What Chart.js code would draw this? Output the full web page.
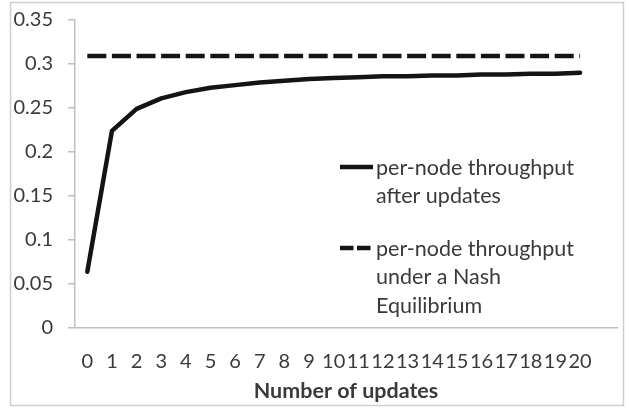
<!DOCTYPE html>
<html>
<head>
<meta charset="utf-8">
<script src="https://cdn.jsdelivr.net/npm/chart.js@4/dist/chart.umd.min.js"></script>
<style>
  html, body { margin: 0; padding: 0; background: #ffffff; }
  #wrap { width: 629px; height: 410px; position: relative; }
</style>
</head>
<body>
<div id="wrap"><canvas id="c" width="629" height="410"></canvas></div>
<script>
// ---- data ----
const categories = ['0','1','2','3','4','5','6','7','8','9','10','11','12','13','14','15','16','17','18','19','20',''];
const throughputAfterUpdates = [0.064, 0.224, 0.249, 0.261, 0.268, 0.273, 0.276, 0.279, 0.281, 0.283, 0.284, 0.285, 0.286, 0.286, 0.287, 0.287, 0.288, 0.288, 0.289, 0.289, 0.290];
const nashThroughput = [0.309, 0.309, 0.309, 0.309, 0.309, 0.309, 0.309, 0.309, 0.309, 0.309, 0.309, 0.309, 0.309, 0.309, 0.309, 0.309, 0.309, 0.309, 0.309, 0.309, 0.309];
const yTicks = [0, 0.05, 0.1, 0.15, 0.2, 0.25, 0.3, 0.35];
const seriesNames = ['per-node throughput after updates', 'per-node throughput under a Nash Equilibrium'];
const legendLines = [['per-node throughput', 'after updates'], ['per-node throughput', 'under a Nash', 'Equilibrium']];
const xTitle = 'Number of updates';

const FONT = 'Lato, Calibri, "Open Sans", sans-serif';
const TXT = '#3a3a3a';
const AXIS = '#bfbfbf';

const frame = {
  id: 'frame',
  beforeDraw(chart) {
    const ctx = chart.ctx;
    ctx.save();
    ctx.fillStyle = '#ffffff';
    ctx.fillRect(0, 0, chart.width, chart.height);
    ctx.strokeStyle = '#cfcfcf';
    ctx.lineWidth = 1.5;
    ctx.strokeRect(10.5, 2.5, 613, 403);
    ctx.restore();
  }
};

const legendBox = {
  id: 'legendBox',
  afterDraw(chart) {
    const ctx = chart.ctx;
    const entries = [
      { y: 167, ds: chart.data.datasets[0], dash: [] , lines: legendLines[0]},
      { y: 248, ds: chart.data.datasets[1], dash: [13.5, 3.5], lines: legendLines[1]}
    ];
    ctx.save();
    ctx.font = '21.5px ' + FONT;
    ctx.fillStyle = TXT;
    ctx.textBaseline = 'middle';
    ctx.textAlign = 'left';
    entries.forEach(e => {
      ctx.beginPath();
      ctx.setLineDash(e.dash);
      ctx.lineWidth = e.ds.borderWidth;
      ctx.strokeStyle = e.ds.borderColor;
      ctx.lineCap = 'butt';
      ctx.moveTo(340, e.y);
      ctx.lineTo(373, e.y);
      ctx.stroke();
      ctx.setLineDash([]);
      e.lines.forEach((t, i) => ctx.fillText(t, 376, e.y + 1 + i * 28.5));
    });
    ctx.restore();
  }
};

new Chart(document.getElementById('c'), {
  type: 'line',
  data: {
    labels: categories,
    datasets: [
      {
        label: seriesNames[0],
        data: throughputAfterUpdates,
        borderColor: '#141414',
        borderWidth: 4.5,
        pointRadius: 0,
        tension: 0,
        fill: false,
        borderCapStyle: 'round',
        borderJoinStyle: 'round'
      },
      {
        label: seriesNames[1],
        data: nashThroughput,
        borderColor: '#141414',
        borderWidth: 4.5,
        borderDash: [19, 5.6],
        pointRadius: 0,
        tension: 0,
        fill: false
      }
    ]
  },
  options: {
    responsive: false,
    animation: false,
    layout: { padding: { left: 0, right: 12, top: 20, bottom: 0 } },
    plugins: {
      legend: { display: false },
      tooltip: { enabled: false }
    },
    scales: {
      x: {
        type: 'category',
        offset: true,
        grid: { display: true, drawOnChartArea: false, drawTicks: false },
        border: { display: true, color: AXIS, width: 1.5 },
        ticks: {
          autoSkip: false,
          maxRotation: 0,
          minRotation: 0,
          padding: 22,
          color: TXT,
          font: { family: FONT, size: 20 }
        },
        title: {
          display: true,
          text: xTitle,
          color: TXT,
          font: { family: FONT, size: 21.5, weight: 'bold' },
          padding: { top: 0, bottom: 6 }
        },
        afterFit(scale) { scale.height = 82; scale.paddingLeft = 0; scale.paddingRight = 0; }
      },
      y: {
        min: 0,
        max: 0.35,
        afterBuildTicks(scale) { scale.ticks = yTicks.map(v => ({ value: v })); },
        grid: { display: true, drawOnChartArea: false, drawTicks: true, tickLength: 7, color: AXIS, lineWidth: 1.5 },
        border: { display: true, color: AXIS, width: 1.5 },
        ticks: {
          padding: 15,
          color: TXT,
          font: { family: FONT, size: 20 },
          callback: v => String(parseFloat(Number(v).toFixed(2)))
        },
        afterFit(scale) { scale.width = 75; scale.paddingTop = 0; scale.paddingBottom = 0; }
      }
    }
  },
  plugins: [frame, legendBox]
});
</script>
</body>
</html>
